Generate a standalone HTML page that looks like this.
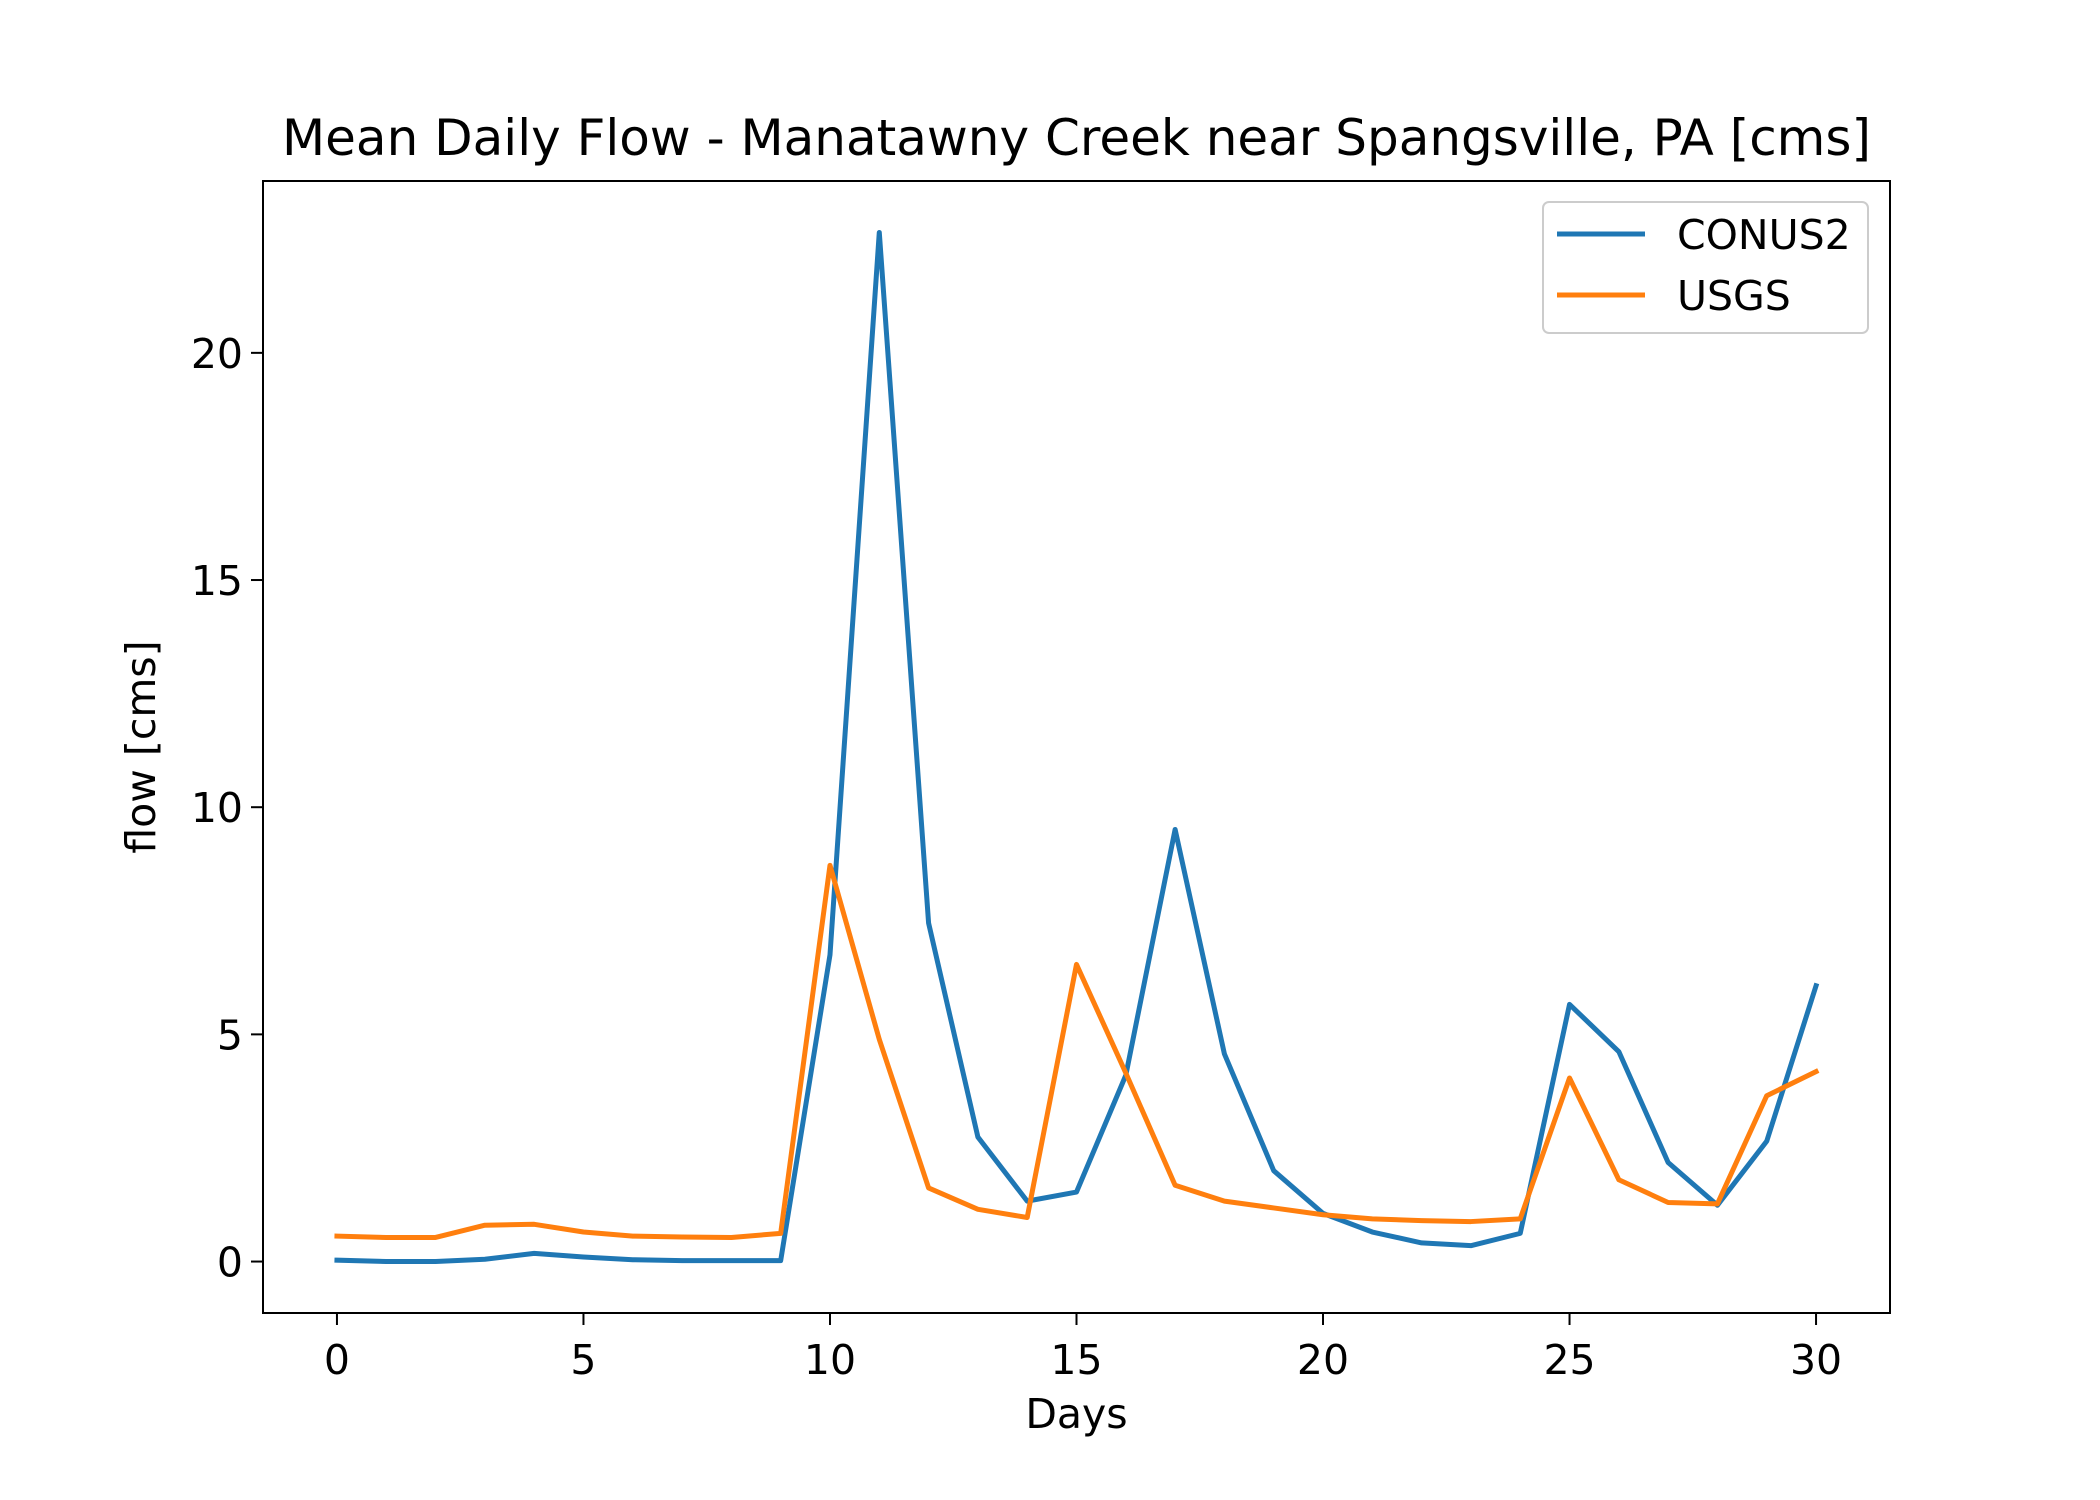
<!DOCTYPE html>
<html><head><meta charset="utf-8"><style>
html,body{margin:0;padding:0;background:#fff;}
svg{display:block;font-family:"DejaVu Sans","Liberation Sans",sans-serif;}
</style></head><body>
<svg id="chart" width="2100" height="1500" viewBox="0 0 2100 1500">
<rect x="0" y="0" width="2100" height="1500" fill="#fff"/>
<g id="plot"></g>
</svg>
<script>
const days = [0,1,2,3,4,5,6,7,8,9,10,11,12,13,14,15,16,17,18,19,20,21,22,23,24,25,26,27,28,29,30];
const conus2 = [0.03,0.0,0.0,0.05,0.18,0.1,0.04,0.02,0.02,0.02,6.75,22.65,7.45,2.74,1.33,1.53,4.1,9.51,4.57,2.0,1.06,0.65,0.41,0.35,0.62,5.66,4.62,2.18,1.24,2.65,6.07];
const usgs = [0.56,0.53,0.53,0.8,0.82,0.65,0.56,0.54,0.53,0.62,8.72,4.89,1.62,1.15,0.97,6.54,4.15,1.68,1.33,1.18,1.03,0.94,0.9,0.88,0.94,4.04,1.8,1.3,1.27,3.65,4.18];
const xTicks = [0,5,10,15,20,25,30];
const yTicks = [0,5,10,15,20];
const seriesNames = ["CONUS2","USGS"];

const NS="http://www.w3.org/2000/svg";
const L=263,R=1890,T=181,B=1313;
const xMin=-1.5,xMax=31.5;
const allY=conus2.concat(usgs);
const dMin=Math.min(...allY),dMax=Math.max(...allY),pad=(dMax-dMin)*0.05;
const yMin=dMin-pad,yMax=dMax+pad;
const xs=v=>L+(v-xMin)/(xMax-xMin)*(R-L);
const ys=v=>B-(v-yMin)/(yMax-yMin)*(B-T);
const g=document.getElementById('plot');
function el(tag,attrs,text){const e=document.createElementNS(NS,tag);for(const k in attrs)e.setAttribute(k,attrs[k]);if(text!==undefined)e.textContent=text;g.appendChild(e);return e;}

const colors=["#1f77b4","#ff7f0e"];
[conus2,usgs].forEach((s,i)=>{
  const p=el('polyline',{points:s.map((v,j)=>xs(days[j])+','+ys(v)).join(' '),fill:'none',stroke:colors[i],'stroke-width':5,'stroke-linejoin':'round','stroke-linecap':'square'});
  
  
});

const frame=el('rect',{x:L,y:T,width:R-L,height:B-T,fill:'none',stroke:'#000','stroke-width':2});



xTicks.forEach(t=>{
  const x=xs(t);
  const tk=el('line',{x1:x,y1:B,x2:x,y2:B+12,stroke:'#000','stroke-width':2});
  
  
  const lb=el('text',{x:x,y:B+61,'font-size':41,'text-anchor':'middle'},String(t));
  
  
});
yTicks.forEach(t=>{
  const y=ys(t);
  const tk=el('line',{x1:L-12,y1:y,x2:L,y2:y,stroke:'#000','stroke-width':2});
  
  
  const lb=el('text',{x:L-20,y:y+15,'font-size':41,'text-anchor':'end'},String(t));
  
  
});

const xl=el('text',{x:(L+R)/2,y:1428,'font-size':41,'text-anchor':'middle'},'Days');


const yl=el('text',{x:0,y:0,'font-size':41,'text-anchor':'middle',transform:'translate(155,'+((T+B)/2)+') rotate(-90)'},'flow [cms]');


const ti=el('text',{x:(L+R)/2,y:155,'font-size':50,'text-anchor':'middle'},'Mean Daily Flow - Manatawny Creek near Spangsville, PA [cms]');



const lg=el('rect',{x:1543,y:202,width:325,height:131,rx:6,fill:'#fff','fill-opacity':0.8,stroke:'#ccc','stroke-width':2});


seriesNames.forEach((n,i)=>{
  const y=234+i*61;
  const ln=el('line',{x1:1557,y1:y,x2:1645,y2:y,stroke:colors[i],'stroke-width':5});
  
  
  const tx=el('text',{x:1677,y:y+15,'font-size':41},n);
  
  
});
</script>
</body></html>
